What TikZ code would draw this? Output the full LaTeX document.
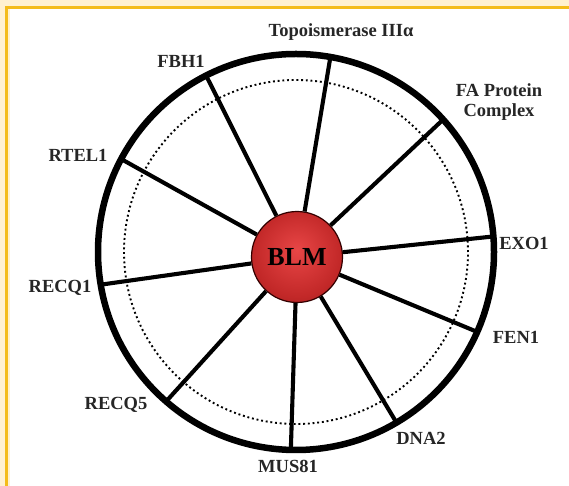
\documentclass[tikz,border=0pt]{standalone}
\usepackage{fontspec}
\setmainfont{Liberation Serif}
\usetikzlibrary{calc}
\definecolor{framepale}{RGB}{255,241,208}
\definecolor{frameyellow}{RGB}{244,188,26}
\definecolor{blmlight}{RGB}{232,70,70}
\definecolor{blmmid}{RGB}{194,40,40}
\definecolor{blmdark}{RGB}{112,16,16}
\pgfdeclareradialshading{blmball}{\pgfpoint{0bp}{4bp}}{color(0bp)=(blmlight); color(24bp)=(blmmid); color(50bp)=(blmdark)}
\tikzset{
	ring/.style={line width=6.5pt},
	inring/.style={line width=1.9pt, dash pattern=on 1.9pt off 2.8pt},
	spoke/.style={line width=4.1pt},
	partner/.style={font=\bfseries\fontsize{18.5}{20.5}\selectfont, inner sep=0pt, align=center, text=black!85},
}
\begin{document}
\begin{tikzpicture}[x=1pt,y=1pt]
	% frame
	\fill[framepale] (0,0) rectangle (569,486);
	\fill[white] (10,0) rectangle (569,477);
	\fill[frameyellow] (5,477) rectangle (569,480);
	\fill[frameyellow] (5,0) rectangle (8,480);
	\useasboundingbox (0,0) rectangle (569,486);
	
	\coordinate (c) at (296,234);
	\draw[inring] (c) circle (172pt);
	
	\node[circle, minimum size=91pt, draw=black!80!red, line width=1.2pt, shading=blmball, font=\bfseries\fontsize{26}{28}\selectfont] (blm) at (297,229) {BLM};
	
	% ends of the spokes on the ring
	\coordinate (ptopo) at ($(c)+(80:198)$);
	\coordinate (pfa) at ($(c)+(42:198)$);
	\coordinate (pexo) at ($(c)+(4.5:198)$);
	\coordinate (pfen) at ($(c)+(-23.8:198)$);
	\coordinate (pdna) at ($(c)+(-59.5:198)$);
	\coordinate (pmus) at ($(c)+(-91.5:198)$);
	\coordinate (precqfive) at ($(c)+(-131:198)$);
	\coordinate (precqone) at ($(c)+(189.5:198)$);
	\coordinate (prtel) at ($(c)+(152:198)$);
	\coordinate (pfbh) at ($(c)+(117:198)$);
	
	\draw[spoke] (blm) -- (ptopo);
	\draw[spoke] (blm) -- (pfa);
	\draw[spoke] (blm) -- (pexo);
	\draw[spoke] (blm) -- (pfen);
	\draw[spoke] (blm) -- (pdna);
	\draw[spoke] (blm) -- (pmus);
	\draw[spoke] (blm) -- (precqfive);
	\draw[spoke] (blm) -- (precqone);
	\draw[spoke] (blm) -- (prtel);
	\draw[spoke] (blm) -- (pfbh);
	
	\draw[ring] (c) circle (198pt);
	
	% partners
	\node[partner] (topo) at (341,454) {Topoismerase IIIα};
	\node[partner] (fbh) at (181,425) {FBH1};
	\node[partner] (fa) at (499,384) {FA Protein\\Complex};
	\node[partner] (rtel) at (78,331) {RTEL1};
	\node[partner] (exo) at (524,243) {EXO1};
	\node[partner] (recqone) at (60,198) {RECQ1};
	\node[partner] (fen) at (516,149) {FEN1};
	\node[partner] (recqfive) at (116,81) {RECQ5};
	\node[partner] (dna) at (421,48) {DNA2};
	\node[partner] (mus) at (288,20) {MUS81};
\end{tikzpicture}
\end{document}
